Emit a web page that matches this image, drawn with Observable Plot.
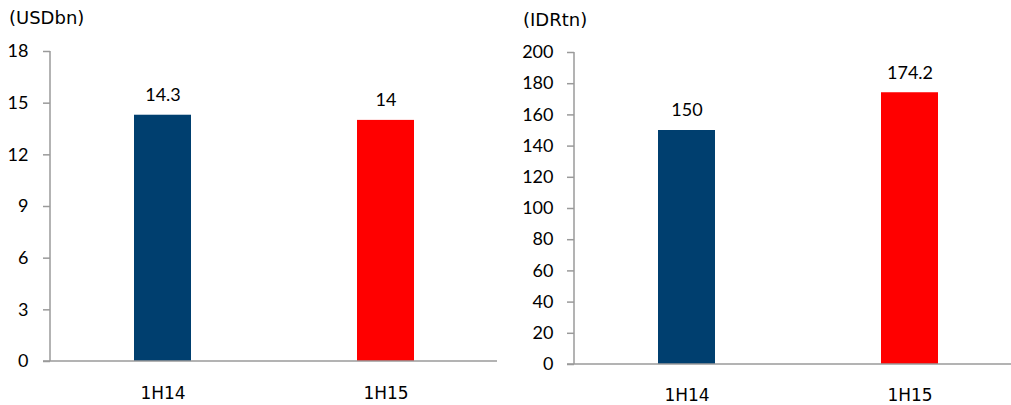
<!DOCTYPE html>
<html><head><meta charset="utf-8">
<script src="https://cdn.jsdelivr.net/npm/d3@7"></script>
<script src="https://cdn.jsdelivr.net/npm/@observablehq/plot@0.6"></script>
<style>
html,body{margin:0;padding:0;background:#fff;overflow:hidden}
#wrap{position:relative;width:1011px;height:405px;overflow:hidden}
.panel{position:absolute;top:0}
.unit{position:absolute;font-family:"DejaVu Sans",Verdana,sans-serif;font-size:18px;line-height:20px;color:#000;white-space:nowrap}
</style></head><body><div id="wrap"></div>
<script>
const periods = ["1H14", "1H15"];
const usdValues = [14.3, 14];
const idrValues = [150, 174.2];
const usdTicks = [0, 3, 6, 9, 12, 15, 18];
const idrTicks = [0, 20, 40, 60, 80, 100, 120, 140, 160, 180, 200];
const barColors = ["#003F6F", "#FF0000"];
const unitLabels = ["(USDbn)", "(IDRtn)"];

function axisLines(yMax) {
  return (index, scales, values, dims) => {
    const g = d3.create("svg:g").attr("stroke", "#9a9a9a").attr("stroke-width", 1.5);
    const y0 = scales.y(0), y1 = scales.y(yMax), xl = dims.marginLeft;
    g.append("line").attr("x1", xl).attr("x2", xl).attr("y1", y0).attr("y2", y1);
    g.append("line").attr("x1", xl - 7).attr("x2", dims.width - dims.marginRight).attr("y1", y0).attr("y2", y0);
    return g.node();
  };
}

function chart(values, ticks, o) {
  const data = periods.map((p, i) => ({period: p, value: values[i], color: barColors[i]}));
  const yMax = ticks[ticks.length - 1];
  return Plot.plot({
    width: o.width, height: 405,
    marginLeft: o.ml, marginRight: o.mr, marginTop: o.mt, marginBottom: o.mb,
    style: {fontFamily: "Lato, sans-serif", background: "transparent", overflow: "visible"},
    x: {domain: periods, range: [o.ml, o.xEnd], paddingInner: 0.745, paddingOuter: 0.3725},
    y: {domain: [0, yMax]},
    marks: [
      Plot.barY(data, {x: "period", y: "value", fill: "color"}),
      axisLines(yMax),
      Plot.axisY({ticks, tickSize: 7, tickPadding: o.tp, stroke: "#9a9a9a", strokeWidth: 1.5, fill: "#000", fontSize: 18, fontFamily: "Lato, sans-serif", label: null}),
      Plot.axisX({tickSize: 0, tickPadding: o.xp, fill: "#000", fontSize: 17, fontFamily: "DejaVu Sans, Verdana, sans-serif", label: null}),
      Plot.text(data, {x: "period", y: "value", text: d => String(d.value), dy: -20, fontSize: 18, fontFamily: "Lato, sans-serif", fill: "#000"})
    ]
  });
}

const wrap = document.getElementById("wrap");
const panels = [
  {values: usdValues, ticks: usdTicks, left: 0, opt: {width: 505, ml: 50, mr: 8, mt: 51, mb: 44, xEnd: 497, tp: 15, xp: 25}, unit: {left: 9, top: 8}},
  {values: idrValues, ticks: idrTicks, left: 505, opt: {width: 506, ml: 69, mr: 0, mt: 52, mb: 41, xEnd: 516, tp: 14, xp: 24}, unit: {left: 523, top: 10}}
];
panels.forEach((p, i) => {
  const div = document.createElement("div");
  div.className = "panel";
  div.style.left = p.left + "px";
  div.appendChild(chart(p.values, p.ticks, p.opt));
  wrap.appendChild(div);
  const u = document.createElement("div");
  u.className = "unit";
  u.style.left = p.unit.left + "px";
  u.style.top = p.unit.top + "px";
  u.textContent = unitLabels[i];
  wrap.appendChild(u);
});
</script></body></html>
